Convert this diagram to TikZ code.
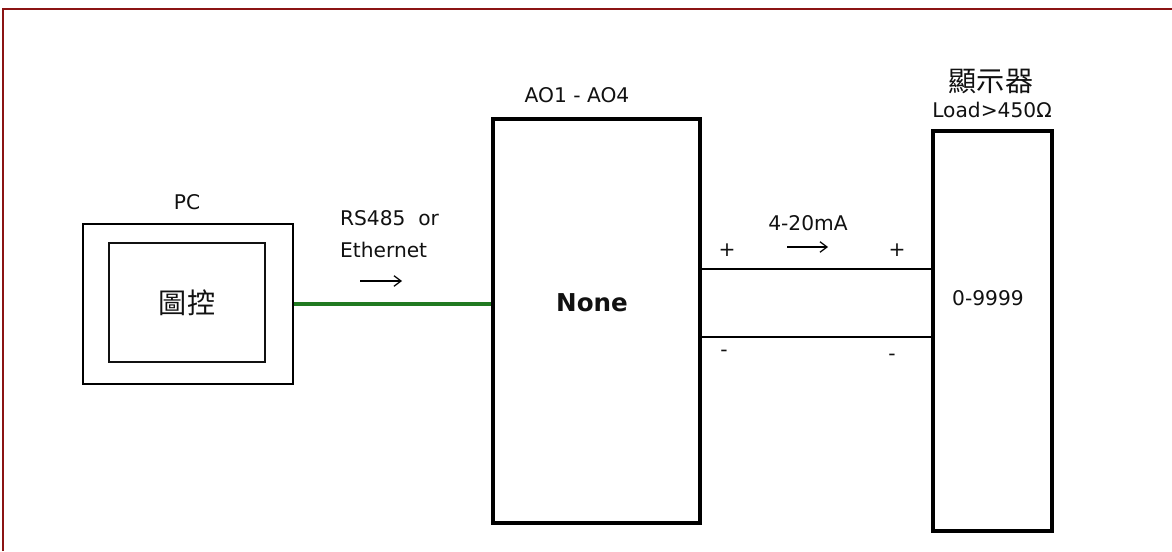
\documentclass[tikz,border=0pt]{standalone}
\usepackage{fontspec}
\setmainfont{DejaVu Sans}
\newfontfamily\cjkfont{Noto Sans CJK TC}
\usepackage{tikz}
\usetikzlibrary{arrows.meta}
\usetikzlibrary{positioning}
\definecolor{dg-frame}{HTML}{8B1414}
\definecolor{dg-link}{HTML}{217A21}
\definecolor{dg-text}{HTML}{111111}

\begin{document}
\begin{tikzpicture}[x=0.02cm, y=-0.02cm, >={Straight Barb[length=4pt,width=6pt]},
    box/.style={draw, line width=2pt, inner sep=0pt},
    pcbox/.style={draw, line width=1.1pt, inner sep=0pt},
    lbl/.style={dg-text, font=\fontsize{11.5}{13}\selectfont, inner sep=1pt},
    cjklbl/.style={dg-text, font=\cjkfont\fontsize{16}{18}\selectfont, inner sep=1pt},
    wire/.style={line width=0.8pt},
    flow/.style={->, line width=0.7pt}]

    \useasboundingbox (0,0) rectangle (1172,551);

    % Moldura externa (so topo e lado esquerdo aparecem)
    \draw[dg-frame, line width=1.4pt] (3,551) -- (3,9) -- (1172,9);

    % --- PC COM SOFTWARE DE CONTROLE ---
    \node[pcbox, minimum width=4.2cm, minimum height=3.2cm] (pc) at (188,304) {};
    \node[pcbox, minimum width=3.12cm, minimum height=2.38cm, cjklbl] (scada) at (187,302.5) {圖控};
    \node[lbl] (pclbl) at (187,202) {PC};

    % --- MODULO CONVERSOR ---
    \node[box, minimum width=4.14cm, minimum height=8.08cm] (conv) at (596.5,321) {};
    \node[lbl] (aolbl) at (577,95) {AO1 - AO4};
    \node[dg-text, font=\bfseries\fontsize{14}{16}\selectfont] (convlbl) at (592,303) {None};

    % --- DISPLAY ---
    \node[box, minimum width=2.38cm, minimum height=8cm] (disp) at (992.5,331) {};
    \node[cjklbl] (displbl) at (991,81) {顯示器};
    \node[lbl] (loadlbl) at (992,110) {Load>450Ω};
    \node[lbl] (rangelbl) at (988,298) {0-9999};

    % --- LIGACOES ---
    % barramento de comunicacao
    \draw[dg-link, line width=2.5pt] (pc.east) -- (pc.east -| conv.west);
    \node[lbl, anchor=west] (buslbl) at (338,218) {RS485\ \ or};
    \node[lbl, anchor=west] (buslblb) at (338,250) {Ethernet};
    \draw[flow] (360,281) -- (402,281);

    % laco de corrente 4-20mA
    \draw[wire] (conv.east |- 0,269) -- (disp.west |- 0,269);
    \draw[wire] (conv.east |- 0,337) -- (disp.west |- 0,337);
    \node[lbl] (curlbl) at (808,223) {4-20mA};
    \draw[flow] (787,247) -- (828,247);
    \node[lbl] (plusa) at (727,250) {+};
    \node[lbl] (plusb) at (897,250) {+};
    \node[lbl] (minusa) at (724,353) {-};
    \node[lbl] (minusb) at (892,357) {-};

\end{tikzpicture}
\end{document}
